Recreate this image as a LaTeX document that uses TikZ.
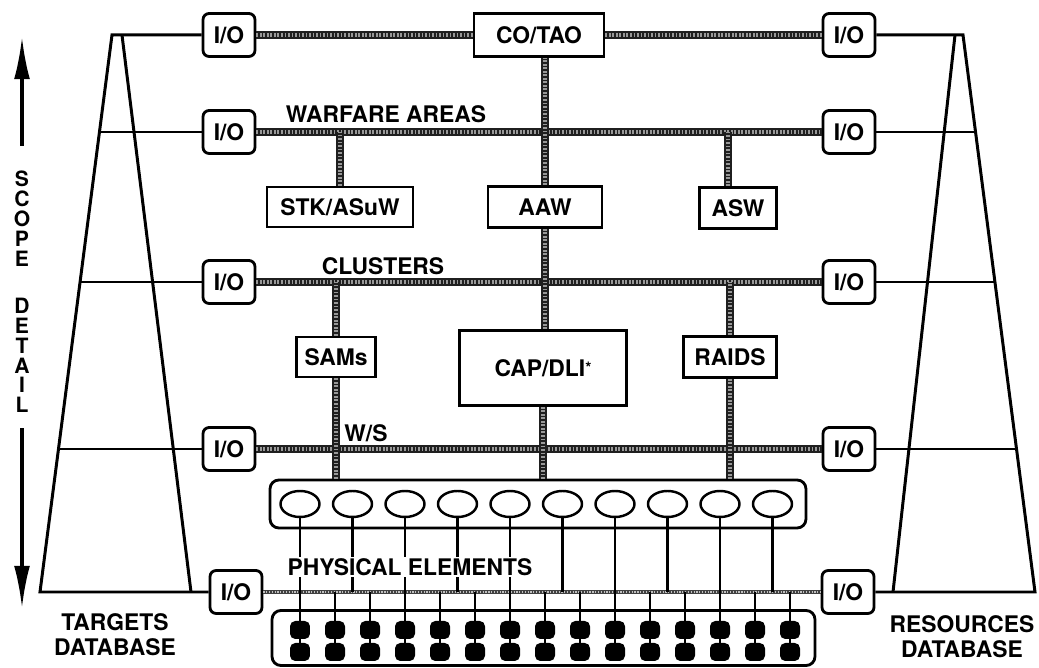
\documentclass[tikz,border=0pt]{standalone}
\usepackage{fontspec}
\setmainfont{TeX Gyre Heros}
\usepackage{tikz}
\usetikzlibrary{shapes.geometric,arrows.meta,positioning,calc}

\begin{document}
\begin{tikzpicture}[
    x=0.02cm, y=-0.02cm,
    font=\fontsize{13}{15}\selectfont\bfseries,
    iobox/.style={rectangle, draw=black, fill=white, line width=1.6pt, rounded corners=3.5pt, minimum width=1.04cm, minimum height=0.86cm, inner sep=0pt},
    unit/.style={rectangle, draw=black, fill=white, line width=1.6pt, minimum height=0.82cm, inner sep=0pt},
    bus/.style={line width=5pt, draw=black!88, postaction={draw=black!40, line width=2.2pt, dash pattern=on 1pt off 1pt}},
    thinbus/.style={line width=2.2pt, draw=black!75, postaction={draw=black!25, line width=0.7pt, dash pattern=on 0.7pt off 0.9pt}},
    frame/.style={line width=1.7pt, line join=miter},
    rung/.style={line width=1.3pt},
    wire/.style={line width=1.4pt},
    pod/.style={ellipse, draw=black, fill=white, line width=1.4pt, minimum width=0.78cm, minimum height=0.52cm, inner sep=0pt},
    blob/.style={rectangle, fill=black, rounded corners=3pt, minimum width=0.4cm, minimum height=0.36cm, inner sep=0pt},
    tray/.style={rectangle, draw=black, line width=1.6pt, rounded corners=5pt, inner sep=0pt},
    scale arrow/.style={line width=1.8pt, -{Latex[length=24pt,width=9pt]}}
]
\useasboundingbox (0,0) rectangle (1039,668);

% I/O Boxes
\node[iobox] (iol1) at (229,35) {I/O};
\node[iobox] (iol2) at (229,132) {I/O};
\node[iobox] (iol3) at (229,282) {I/O};
\node[iobox] (iol4) at (229,449) {I/O};
\node[iobox] (iol5) at (236,592) {I/O};
\node[iobox] (ior1) at (849,35) {I/O};
\node[iobox] (ior2) at (849,132) {I/O};
\node[iobox] (ior3) at (849,282) {I/O};
\node[iobox] (ior4) at (849,449) {I/O};
\node[iobox] (ior5) at (848,592) {I/O};

% Command Units
\node[unit, minimum width=2.6cm, minimum height=0.86cm] (cotao) at (539,35) {CO/TAO};
\node[unit, minimum width=2.92cm, minimum height=0.8cm] (stk) at (340,207) {STK/ASuW};
\node[unit, minimum width=2.28cm] (aaw) at (545,207) {AAW};
\node[unit, minimum width=1.54cm] (asw) at (738,208) {ASW};
\node[unit, minimum width=1.58cm, minimum height=0.8cm] (sams) at (336,357) {SAMs};
\node[unit, minimum width=3.34cm, minimum height=1.5cm] (cap) at (543,368) {CAP/DLI{\fontsize{9}{9}\selectfont\raisebox{0.35ex}{*}}};
\node[unit, minimum width=1.86cm] (raids) at (730,357) {RAIDS};

% Level Labels
\node (lblwar) at (386,114) {WARFARE AREAS};
\node (lblclu) at (383,266) {CLUSTERS};
\node (lblws) at (366,433) {W/S};

% Trays
\node[tray, minimum width=10.72cm, minimum height=0.96cm] (podtray) at (538,504) {};
\node[tray, minimum width=10.86cm, minimum height=1.1cm] (celltray) at (543.5,638) {};

% Buses
\draw[bus] (iol1) -- (cotao);
\draw[bus] (cotao) -- (ior1);
\draw[bus] (iol2) -- (ior2);
\draw[bus] (iol3) -- (ior3);
\draw[bus] (iol4) -- (ior4);
\draw[thinbus] (iol5) -- (ior5);

\draw[bus] (stk.north) -- (stk.north |- iol2);
\draw[bus] ([xshift=-0.2cm]asw.north) -- ([xshift=-0.2cm]asw.north |- iol2);
\draw[bus] (aaw.north) -- (aaw.north |- cotao.south);
\draw[bus] (aaw.south) -- (aaw.south |- cap.north);
\draw[bus] (cap.south) -- (cap.south |- podtray.north);
\draw[bus] (sams.north) -- (sams.north |- iol3);
\draw[bus] (sams.south) -- (sams.south |- podtray.north);
\draw[bus] (raids.north) -- (raids.north |- iol3);
\draw[bus] (raids.south) -- (raids.south |- podtray.north);

% Weapon Systems and Physical Elements
\foreach \i in {0,...,9}
    \node[pod] (pod\i) at (300+52.5*\i,504) {};
\foreach \j in {0,...,14} {
    \node[blob] (cu\j) at (300+35*\j,630) {};
    \node[blob] (cl\j) at (300+35*\j,652) {};
    \draw[wire] (cu\j) -- (cl\j);
}
\foreach \i/\j in {0/0,2/3,4/6,6/9,8/12}
    \draw[wire] (pod\i.south) -- (cu\j.north);
\foreach \i in {1,3,5,7,9}
    \draw[wire] (pod\i.south) -- (pod\i.south |- iol5);
\foreach \j in {1,2,4,5,7,8,10,11,13,14}
    \draw[wire] (cu\j.north |- iol5) -- (cu\j.north);
\node[fill=white, inner sep=1pt] (lblphys) at (410,567) {PHYSICAL ELEMENTS};

% Targets Database
\coordinate (tdA) at (112,35);
\coordinate (tdB) at (122,35);
\coordinate (tdC) at (191,592);
\coordinate (tdD) at (40,592);
\draw[frame] (iol1.west) -- (tdA) -- (tdD) -- (iol5.west);
\draw[frame] (tdB) -- (tdC);
\coordinate (td2) at (99.5,132);
\coordinate (td3) at (80.1,282);
\coordinate (td4) at (58.5,449);
\draw[rung] (td2) -- (iol2);
\draw[rung] (td3) -- (iol3);
\draw[rung] (td4) -- (iol4);
\node[align=center, font=\fontsize{13}{14.2}\selectfont\bfseries] (tdb) at (115,635) {TARGETS\\DATABASE};

% Resources Database
\coordinate (rdA) at (955,35);
\coordinate (rdB) at (963,35);
\coordinate (rdC) at (1035,592);
\coordinate (rdD) at (893,592);
\draw[frame] (ior1.east) -- (rdB) -- (rdC) -- (ior5.east);
\draw[frame] (rdA) -- (rdD);
\coordinate (rd2) at (975.5,132);
\coordinate (rd3) at (994.9,282);
\coordinate (rd4) at (1016.5,449);
\draw[rung] (ior2) -- (rd2);
\draw[rung] (ior3) -- (rd3);
\draw[rung] (ior4) -- (rd4);
\node[align=center, font=\fontsize{13}{14.2}\selectfont\bfseries] (rdb) at (962,637) {RESOURCES\\DATABASE};

% Scope / Detail Scale
\node[align=center, inner sep=0pt, font=\fontsize{12}{11.34}\selectfont\bfseries] (scope) at (22,292) {S\\C\\O\\P\\E\\[0.54cm]D\\E\\T\\A\\I\\L};
\coordinate (scopetop) at (22,37);
\coordinate (scopebot) at (22,608);
\draw[scale arrow] ([yshift=0.5cm]scope.north) -- (scopetop);
\draw[scale arrow] ([yshift=-0.3cm]scope.south) -- (scopebot);

\end{tikzpicture}
\end{document}
